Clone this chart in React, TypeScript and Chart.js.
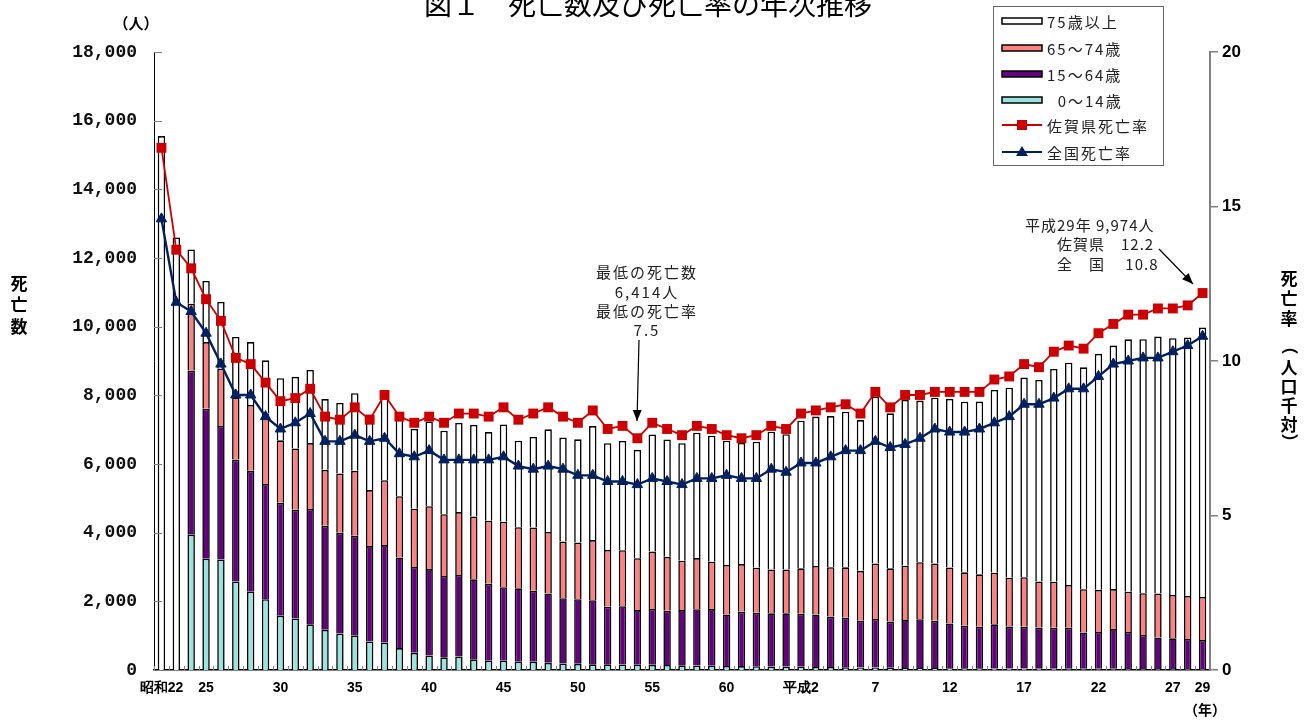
import React, { useEffect, useRef } from 'react';
import { Chart, registerables } from 'chart.js';
Chart.register(...registerables);

const yearLabels = [
  '昭和22','23','24','25','26','27','28','29','30','31','32','33','34','35','36','37','38','39','40','41',
  '42','43','44','45','46','47','48','49','50','51','52','53','54','55','56','57','58','59','60','61',
  '62','63','平成元','平成2','3','4','5','6','7','8','9','10','11','12','13','14','15','16','17','18',
  '19','20','21','22','23','24','25','26','27','28','29'
];
const shownTickIdx = [0, 3, 8, 13, 18, 23, 28, 33, 38, 43, 48, 53, 58, 63, 68, 70];

const age0to14 = [
  null, null, 3940, 3240, 3220, 2580, 2280, 2060, 1580, 1500, 1330, 1170, 1060, 1000, 830, 800, 640, 500, 420, 370,
  390, 310, 270, 270, 240, 240, 210, 190, 180, 165, 165, 160, 155, 150, 145, 135, 130, 125, 120, 115,
  110, 105, 100, 95, 90, 85, 80, 75, 70, 65, 60, 58, 55, 52, 50, 48, 46, 44, 42, 40,
  38, 36, 35, 34, 33, 32, 31, 30, 29, 28, 27
];
const age15to64 = [
  null, null, 4780, 4370, 3890, 3550, 3520, 3360, 3290, 3170, 3360, 3030, 2940, 2910, 2780, 2840, 2640, 2500, 2520, 2370,
  2380, 2330, 2240, 2140, 2140, 2070, 2020, 1900, 1880, 1870, 1680, 1700, 1590, 1630, 1580, 1610, 1640, 1650, 1500, 1580,
  1560, 1545, 1550, 1545, 1530, 1470, 1445, 1360, 1415, 1345, 1395, 1420, 1380, 1305, 1240, 1215, 1285, 1220, 1220, 1195,
  1195, 1195, 1060, 1075, 1160, 1075, 990, 920, 895, 875, 850
];
const age65to74 = [
  null, null, 1950, 1940, 1670, 1810, 1920, 2050, 1820, 1780, 1920, 1630, 1720, 1890, 1630, 1890, 1780, 1700, 1830, 1800,
  1830, 1830, 1840, 1910, 1780, 1840, 1790, 1650, 1650, 1750, 1650, 1630, 1510, 1670, 1570, 1440, 1490, 1380, 1440, 1390,
  1310, 1280, 1280, 1320, 1410, 1440, 1465, 1455, 1620, 1550, 1585, 1660, 1670, 1630, 1555, 1525, 1505, 1425, 1440, 1340,
  1340, 1245, 1260, 1225, 1165, 1175, 1215, 1280, 1260, 1255, 1250
];
const age75plus = [
  15550, 12600, 1580, 1780, 1940, 1760, 1830, 1550, 1810, 2090, 2130, 2060, 2060, 2260, 2200, 2450, 2320, 2320, 2470, 2430,
  2600, 2670, 2580, 2830, 2520, 2640, 2990, 3030, 3010, 3320, 3110, 3180, 3159, 3410, 3420, 3420, 3650, 3670, 3620, 3530,
  3670, 4010, 3940, 4300, 4350, 4400, 4535, 4390, 4855, 4515, 4825, 4710, 4825, 4910, 4970, 5030, 5320, 5535, 5815, 5875,
  6195, 6475, 6460, 6875, 7090, 7350, 7400, 7480, 7480, 7530, 7847
];
const sagaRate = [
  16.9, 13.6, 13.0, 12.0, 11.3, 10.1, 9.9, 9.3, 8.7, 8.8, 9.1, 8.2, 8.1, 8.5, 8.1, 8.9, 8.2, 8.0, 8.2, 8.0,
  8.3, 8.3, 8.2, 8.5, 8.1, 8.3, 8.5, 8.2, 8.0, 8.4, 7.8, 7.9, 7.5, 8.0, 7.8, 7.6, 7.9, 7.8, 7.6, 7.5,
  7.6, 7.9, 7.8, 8.3, 8.4, 8.5, 8.6, 8.3, 9.0, 8.5, 8.9, 8.9, 9.0, 9.0, 9.0, 9.0, 9.4, 9.5, 9.9, 9.8,
  10.3, 10.5, 10.4, 10.9, 11.2, 11.5, 11.5, 11.7, 11.7, 11.8, 12.2
];
const japanRate = [
  14.6, 11.9, 11.6, 10.9, 9.9, 8.9, 8.9, 8.2, 7.8, 8.0, 8.3, 7.4, 7.4, 7.6, 7.4, 7.5, 7.0, 6.9, 7.1, 6.8,
  6.8, 6.8, 6.8, 6.9, 6.6, 6.5, 6.6, 6.5, 6.3, 6.3, 6.1, 6.1, 6.0, 6.2, 6.1, 6.0, 6.2, 6.2, 6.3, 6.2,
  6.2, 6.5, 6.4, 6.7, 6.7, 6.9, 7.1, 7.1, 7.4, 7.2, 7.3, 7.5, 7.8, 7.7, 7.7, 7.8, 8.0, 8.2, 8.6, 8.6,
  8.8, 9.1, 9.1, 9.5, 9.9, 10.0, 10.1, 10.1, 10.3, 10.5, 10.8
];
const leftTickValues = [0, 2000, 4000, 6000, 8000, 10000, 12000, 14000, 16000, 18000];

const seriesNames = ['75歳以上', '65～74歳', '15～64歳', '  0～14歳', '佐賀県死亡率', '全国死亡率'];
const titleText = '図１　死亡数及び死亡率の年次推移';
const minNote = ['最低の死亡数', '6,414人', '最低の死亡率', '7.5'];
const lastNote = ['平成29年 9,974人', '佐賀県　12.2', '全　国　 10.8'];

const C_WHITE = '#FFFFFF';
const C_PINK = '#FF8080';
const C_PURPLE = '#660080';
const C_CYAN = '#9BE3E0';
const C_RED = '#CC0000';
const C_NAVY = '#002060';
const CJK = '"Noto Sans CJK JP", sans-serif';

function arrow(ctx: CanvasRenderingContext2D, x1: number, y1: number, x2: number, y2: number) {
  ctx.beginPath();
  ctx.moveTo(x1, y1);
  ctx.lineTo(x2, y2);
  ctx.stroke();
  const a = Math.atan2(y2 - y1, x2 - x1);
  const L = 11, W = 4.5;
  ctx.beginPath();
  ctx.moveTo(x2, y2);
  ctx.lineTo(x2 - L * Math.cos(a) + W * Math.sin(a), y2 - L * Math.sin(a) - W * Math.cos(a));
  ctx.lineTo(x2 - L * Math.cos(a) - W * Math.sin(a), y2 - L * Math.sin(a) + W * Math.cos(a));
  ctx.closePath();
  ctx.fill();
}

const decoPlugin = {
  id: 'deco',
  afterDatasetsDraw(chart: any) {
    const ctx: CanvasRenderingContext2D = chart.ctx;
    const { left, right, bottom } = chart.chartArea;
    const ys = chart.scales.y;
    ctx.save();
    ctx.strokeStyle = '#808080';
    ctx.lineWidth = 1;
    for (const v of leftTickValues) {
      const y = Math.round(ys.getPixelForValue(v)) + 0.5;
      ctx.beginPath();
      ctx.moveTo(left, y);
      ctx.lineTo(left + 8, y);
      ctx.stroke();
    }
    const n = yearLabels.length;
    const w = (right - left) / n;
    for (let i = 0; i <= n; i++) {
      const x = Math.round(left + i * w) + 0.5;
      ctx.beginPath();
      ctx.moveTo(x, bottom);
      ctx.lineTo(x, bottom - 4);
      ctx.stroke();
    }
    ctx.restore();
  },
  afterDraw(chart: any) {
    const ctx: CanvasRenderingContext2D = chart.ctx;
    ctx.save();
    // title
    ctx.fillStyle = '#000';
    ctx.font = `28px ${CJK}`;
    ctx.textAlign = 'center';
    ctx.textBaseline = 'alphabetic';
    ctx.fillText(titleText, 648, 15);

    // unit labels
    ctx.font = `bold 15px ${CJK}`;
    ctx.textBaseline = 'middle';
    ctx.fillText('（人）', 136, 23);
    ctx.font = `bold 14px ${CJK}`;
    ctx.fillText('（年）', 1205, 710);

    // vertical axis titles
    ctx.font = `bold 17px ${CJK}`;
    const leftT = ['死', '亡', '数'];
    const leftY = [284, 305, 327];
    leftT.forEach((c, i) => ctx.fillText(c, 19, leftY[i]));
    const rightT = ['死', '亡', '率', '（', '人', '口', '千', '対', '）'];
    const rightY = [279, 299, 319, 346, 368, 387, 406, 425, 442];
    rightT.forEach((c, i) => {
      if (c === '（' || c === '）') {
        ctx.save();
        ctx.translate(1289, rightY[i]);
        ctx.rotate(Math.PI / 2);
        ctx.fillText(c, 0, 0);
        ctx.restore();
      } else {
        ctx.fillText(c, 1289, rightY[i]);
      }
    });

    // legend
    const bx = 993, by = 6, bw = 170, bh = 159;
    ctx.fillStyle = '#fff';
    ctx.fillRect(bx, by, bw, bh);
    ctx.strokeStyle = '#666';
    ctx.lineWidth = 1;
    ctx.strokeRect(bx + 0.5, by + 0.5, bw, bh);
    const rowY = [21, 48, 74, 100, 125, 152];
    const fills = [C_WHITE, C_PINK, C_PURPLE, C_CYAN];
    for (let i = 0; i < 4; i++) {
      ctx.fillStyle = fills[i];
      ctx.fillRect(1002, rowY[i] - 3, 40, 6);
      ctx.strokeStyle = '#000';
      ctx.lineWidth = 1.5;
      ctx.strokeRect(1002, rowY[i] - 3, 40, 6);
    }
    ctx.lineWidth = 2;
    ctx.strokeStyle = C_RED;
    ctx.beginPath(); ctx.moveTo(1002, rowY[4]); ctx.lineTo(1042, rowY[4]); ctx.stroke();
    ctx.fillStyle = C_RED;
    ctx.fillRect(1017, rowY[4] - 5, 10, 10);
    ctx.strokeStyle = C_NAVY;
    ctx.beginPath(); ctx.moveTo(1002, rowY[5]); ctx.lineTo(1042, rowY[5]); ctx.stroke();
    ctx.fillStyle = C_NAVY;
    ctx.beginPath();
    ctx.moveTo(1022, rowY[5] - 6);
    ctx.lineTo(1028, rowY[5] + 4);
    ctx.lineTo(1016, rowY[5] + 4);
    ctx.closePath();
    ctx.fill();
    ctx.fillStyle = '#222';
    ctx.font = `15px ${CJK}`;
    ctx.textAlign = 'left';
    ctx.textBaseline = 'middle';
    (ctx as any).letterSpacing = '2px';
    seriesNames.forEach((s, i) => ctx.fillText(s, 1047, rowY[i] + 1));

    // annotations
    ctx.fillStyle = '#222';
    ctx.font = `15px ${CJK}`;
    ctx.textAlign = 'center';
    const mY = [272, 292, 311, 330];
    minNote.forEach((s, i) => ctx.fillText(s, 647, mY[i]));
    ctx.textAlign = 'left';
    (ctx as any).letterSpacing = '1px';
    ctx.fillText(lastNote[0], 1025, 225);
    ctx.fillText(lastNote[1], 1057, 244);
    ctx.fillText(lastNote[2], 1057, 264);
    (ctx as any).letterSpacing = '0px';
    ctx.strokeStyle = '#000';
    ctx.fillStyle = '#000';
    ctx.lineWidth = 1.2;
    arrow(ctx, 639, 340, 637, 421);
    arrow(ctx, 1159, 249, 1193, 284);
    ctx.restore();
  },
};

export default function App() {
  const ref = useRef<HTMLCanvasElement | null>(null);
  useEffect(() => {
    if (!ref.current) return;
    const barCommon = {
      type: 'bar' as const,
      yAxisID: 'y',
      stack: 'deaths',
      borderColor: '#000',
      borderWidth: 1.6,
      barPercentage: 0.5,
      categoryPercentage: 1.0,
      order: 1,
    };
    const chart = new Chart(ref.current, {
      type: 'bar',
      data: {
        labels: yearLabels,
        datasets: [
          { ...barCommon, label: seriesNames[3], data: age0to14, backgroundColor: C_CYAN },
          { ...barCommon, label: seriesNames[2], data: age15to64, backgroundColor: C_PURPLE },
          { ...barCommon, label: seriesNames[1], data: age65to74, backgroundColor: C_PINK },
          { ...barCommon, label: seriesNames[0], data: age75plus, backgroundColor: C_WHITE },
          {
            type: 'line', label: seriesNames[5], data: japanRate, yAxisID: 'y1', order: 0,
            borderColor: C_NAVY, backgroundColor: C_NAVY, borderWidth: 2.4,
            pointStyle: 'triangle', pointRadius: 6, pointBorderWidth: 1, tension: 0,
          },
          {
            type: 'line', label: seriesNames[4], data: sagaRate, yAxisID: 'y1', order: 0,
            borderColor: C_RED, backgroundColor: C_RED, borderWidth: 1.8,
            pointStyle: 'rect', pointRadius: 7, pointBorderWidth: 0, tension: 0,
          },
        ] as any,
      },
      options: {
        animation: false,
        responsive: true,
        maintainAspectRatio: false,
        layout: { padding: { top: 52, left: 0, right: 0, bottom: 0 } },
        plugins: { legend: { display: false }, tooltip: { enabled: false }, title: { display: false } },
        scales: {
          x: {
            stacked: true,
            offset: true,
            grid: { display: false, drawTicks: false },
            border: { display: true, color: '#000', width: 1.5 },
            ticks: {
              autoSkip: false, maxRotation: 0, minRotation: 0, padding: 10,
              color: '#000',
              font: { family: '"Liberation Sans", Arial, sans-serif', size: 14, weight: 'bold' },
              callback: (_v: any, i: number) => (shownTickIdx.includes(i) ? yearLabels[i] : ''),
            },
            afterFit: (s: any) => { s.height = 50; },
          },
          y: {
            stacked: true,
            position: 'left',
            min: 0, max: 18000,
            grid: { display: false, drawTicks: false },
            border: { display: true, color: '#000', width: 1 },
            ticks: {
              stepSize: 2000, padding: 17, color: '#111',
              font: { family: '"Liberation Mono", "DejaVu Sans Mono", monospace', size: 18, weight: 'bold' },
              callback: (v: any) => Number(v).toLocaleString('en-US'),
            },
            afterFit: (s: any) => { s.width = 154; },
          },
          y1: {
            position: 'right',
            min: 0, max: 20,
            grid: { display: true, drawOnChartArea: false, drawTicks: true, tickLength: 8, color: '#808080', lineWidth: 1.5 },
            border: { display: true, color: '#808080', width: 2 },
            ticks: {
              stepSize: 5, padding: 4, color: '#000',
              font: { family: '"Liberation Sans", Arial, sans-serif', size: 17, weight: 'bold' },
            },
            afterFit: (s: any) => { s.width = 101; },
          },
        },
      } as any,
      plugins: [decoPlugin],
    });
    return () => chart.destroy();
  }, []);
  return (
    <div style={{ position: 'absolute', left: 0, top: 0, width: 1311, height: 720, background: '#fff' }}>
      <canvas ref={ref} />
    </div>
  );
}
